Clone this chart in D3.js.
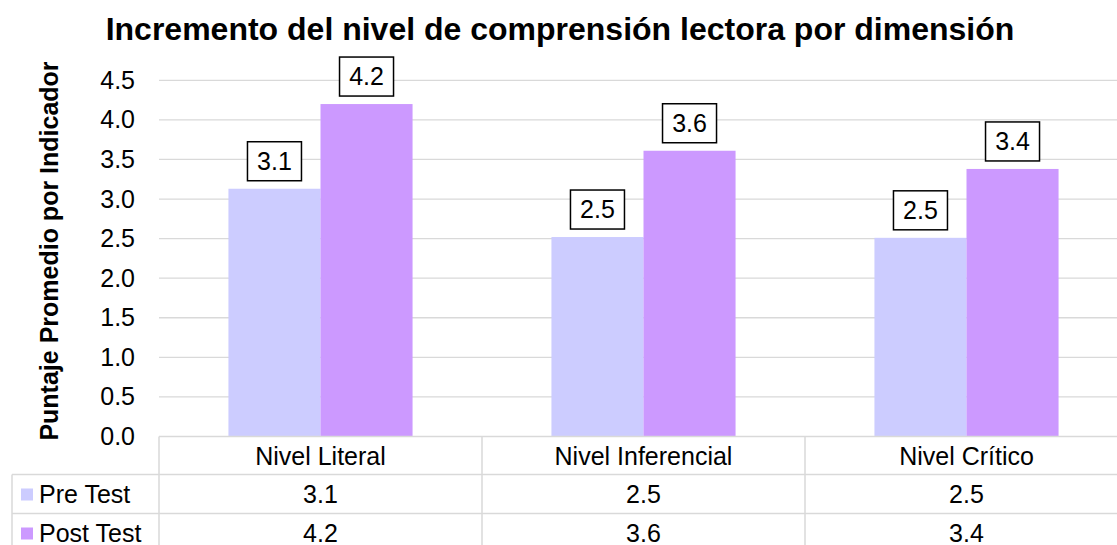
<!DOCTYPE html>
<html>
<head>
<meta charset="utf-8">
<script src="https://cdn.jsdelivr.net/npm/d3@7"></script>
<style>
  body { margin: 0; background: #fff; }
  svg { display: block; font-family: Arial, "Liberation Sans", sans-serif; }
</style>
</head>
<body>
<svg id="chart" width="1117" height="545"></svg>
<script>
// chart data
var categories = ["Nivel Literal", "Nivel Inferencial", "Nivel Crítico"];
var seriesNames = ["Pre Test", "Post Test"];
var preTest = [3.13, 2.52, 2.51];
var postTest = [4.2, 3.61, 3.38];
var yTicks = [0, 0.5, 1, 1.5, 2, 2.5, 3, 3.5, 4, 4.5];
var colors = ["#CCCCFF", "#CC99FF"];

var svg = d3.select("#chart");
var fmt = d3.format(".1f");
var gridColor = "#d9d9d9";
var fs = 25;

var plotLeft = 159, plotRight = 1128, plotTop = 80.3, plotBottom = 436.5;
var rowH = [38, 39, 39];

var x = d3.scaleBand().domain(categories).range([plotLeft, plotRight]).paddingInner(0.43).paddingOuter(0.215);
var x0 = d3.scaleBand().domain(categories).range([plotLeft, plotRight]);
var xs = d3.scaleBand().domain(seriesNames).range([0, x.bandwidth()]);
var y = d3.scaleLinear().domain([0, 4.5]).range([plotBottom, plotTop]);

// title
svg.append("text")
  .attr("x", 560).attr("y", 40)
  .attr("text-anchor", "middle")
  .attr("font-size", 32).attr("font-weight", "bold")
  .text("Incremento del nivel de comprensión lectora por dimensión");

// gridlines
svg.append("g").selectAll("line")
  .data(yTicks.filter(function(t){ return t > 0; }))
  .enter().append("line")
  .attr("x1", plotLeft).attr("x2", plotRight)
  .attr("y1", function(d){ return y(d); }).attr("y2", function(d){ return y(d); })
  .attr("stroke", gridColor).attr("stroke-width", 1.3);

// y axis labels
var yAxis = d3.axisLeft(y).tickValues(yTicks).tickFormat(fmt).tickSize(0).tickPadding(0);
var gy = svg.append("g").attr("transform", "translate(135,0)").call(yAxis);
gy.select(".domain").remove();
gy.selectAll("text").attr("font-size", fs).attr("fill", "#000").attr("font-family", "Arial, 'Liberation Sans', sans-serif");

// y axis title
svg.append("text")
  .attr("transform", "translate(58," + ((60 + 442) / 2) + ") rotate(-90)")
  .attr("text-anchor", "middle")
  .attr("font-size", 25).attr("font-weight", "bold")
  .text("Puntaje Promedio por Indicador");

// bars
var seriesData = [preTest, postTest];
seriesData.forEach(function(vals, si){
  var g = svg.append("g");
  g.selectAll("rect").data(vals).enter().append("rect")
    .attr("x", function(d, i){ return x(categories[i]) + xs(seriesNames[si]); })
    .attr("y", function(d){ return y(d); })
    .attr("width", xs.bandwidth())
    .attr("height", function(d){ return plotBottom - y(d); })
    .attr("fill", colors[si]);

  // data labels with boxes
  var lab = g.selectAll("g.lab").data(vals).enter().append("g").attr("class", "lab");
  lab.append("rect")
    .attr("x", function(d, i){ return x(categories[i]) + xs(seriesNames[si]) + xs.bandwidth() / 2 - 27; })
    .attr("y", function(d){ return y(d) - 8 - 39; })
    .attr("width", 54).attr("height", 39)
    .attr("fill", "#fff").attr("stroke", "#000").attr("stroke-width", 1.5);
  lab.append("text")
    .attr("x", function(d, i){ return x(categories[i]) + xs(seriesNames[si]) + xs.bandwidth() / 2; })
    .attr("y", function(d){ return y(d) - 8 - 11; })
    .attr("text-anchor", "middle").attr("font-size", fs)
    .text(function(d){ return fmt(d); });
});

// data table
var tbl = svg.append("g");
var rowY = [plotBottom, plotBottom + rowH[0], plotBottom + rowH[0] + rowH[1], plotBottom + rowH[0] + rowH[1] + rowH[2]];
var tableLeft = 12;
// horizontal lines
tbl.append("line").attr("x1", plotLeft).attr("x2", plotRight).attr("y1", rowY[0]).attr("y2", rowY[0]);
[1, 2, 3].forEach(function(r){
  tbl.append("line").attr("x1", tableLeft).attr("x2", plotRight).attr("y1", rowY[r]).attr("y2", rowY[r]);
});
// vertical lines
tbl.append("line").attr("x1", tableLeft).attr("x2", tableLeft).attr("y1", rowY[1]).attr("y2", rowY[3]);
categories.forEach(function(c){
  tbl.append("line").attr("x1", x0(c)).attr("x2", x0(c)).attr("y1", rowY[0]).attr("y2", rowY[3]);
});
tbl.append("line").attr("x1", plotRight).attr("x2", plotRight).attr("y1", rowY[0]).attr("y2", rowY[3]);
tbl.selectAll("line").attr("stroke", gridColor).attr("stroke-width", 1.5);

// header row
tbl.selectAll("text.cat").data(categories).enter().append("text")
  .attr("class", "cat")
  .attr("x", function(d){ return x0(d) + x0.bandwidth() / 2; })
  .attr("y", rowY[0] + 28)
  .attr("text-anchor", "middle").attr("font-size", fs)
  .text(function(d){ return d; });

// series rows
seriesData.forEach(function(vals, si){
  var ry = rowY[si + 1];
  tbl.append("rect").attr("x", 21).attr("y", ry + 14).attr("width", 12).attr("height", 12).attr("fill", colors[si]);
  tbl.append("text").attr("x", 39).attr("y", ry + 28).attr("font-size", fs).text(seriesNames[si]);
  tbl.selectAll("text.v" + si).data(vals).enter().append("text")
    .attr("class", "v" + si)
    .attr("x", function(d, i){ return x0(categories[i]) + x0.bandwidth() / 2; })
    .attr("y", ry + 28)
    .attr("text-anchor", "middle").attr("font-size", fs)
    .text(function(d){ return fmt(d); });
});
</script>
</body>
</html>
